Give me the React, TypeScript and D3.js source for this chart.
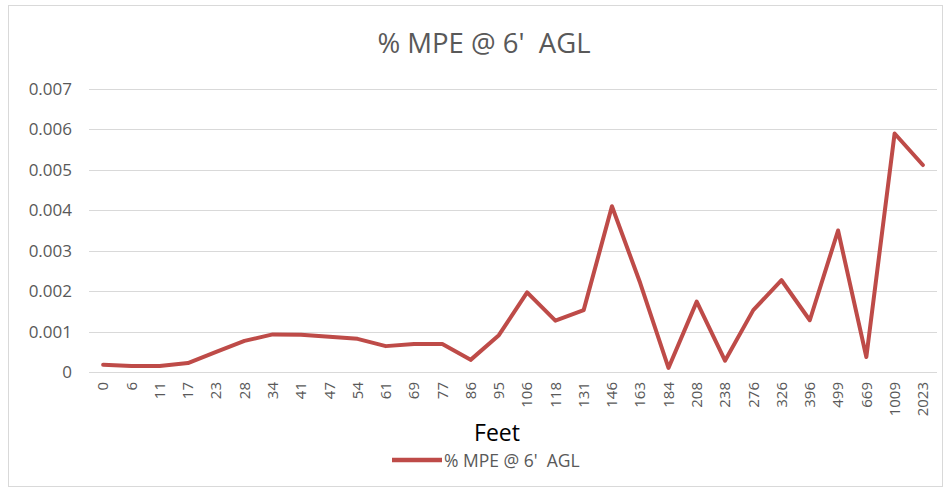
import React from "react";
import * as d3 from "d3";

const categories: string[] = ["0","6","11","17","23","28","34","41","47","54","61","69","77","86","95","106","118","131","146","163","184","208","238","276","326","396","499","669","1009","2023"];
const values: number[] = [0.00018,0.00015,0.00015,0.00022,0.0005,0.00077,0.00093,0.00092,0.00087,0.00082,0.00064,0.00069,0.00069,0.0003,0.00091,0.00197,0.00127,0.00153,0.0041,0.0022,0.0001,0.00174,0.00028,0.00153,0.00227,0.00128,0.0035,0.00037,0.0059,0.00512];
const yTicks: number[] = [0,0.001,0.002,0.003,0.004,0.005,0.006,0.007];
const seriesName = "% MPE @ 6'  AGL";
const chartTitle = "% MPE @ 6'  AGL";
const xTitle = "Feet";

const W = 950, H = 490;
const left = 89, right = 937, top = 89, bottom = 372;
const FONT = "'Open Sans', 'Noto Sans', sans-serif";
const TXT = "#595959";
const RED = "#be4b48";

export default function App() {
  const x = d3.scaleBand<string>().domain(categories).range([left, right]).padding(0);
  const y = d3.scaleLinear().domain([0, 0.007]).range([bottom, top]);
  const line = d3.line<number>()
    .x((_, i) => (x(categories[i]) as number) + x.bandwidth() / 2)
    .y((d) => y(d));
  const fmt = (v: number) => (v === 0 ? "0" : d3.format(".3f")(v));
  return (
    <svg width={W} height={H} style={{ position: "absolute", left: 0, top: 0, background: "#fff" }}>
      <rect x={0} y={0} width={W} height={H} fill="#fff" />
      <rect x={8.5} y={5.5} width={934} height={481} fill="none" stroke="#d9d9d9" strokeWidth={1} />
      <text x={484} y={53} textAnchor="middle" fontFamily={FONT} fontSize={27.5} fill={TXT} style={{ whiteSpace: "pre" }}>{chartTitle}</text>
      {yTicks.map((t) => (
        <g key={t}>
          <line x1={left} x2={right} y1={Math.round(y(t)) + 0.5} y2={Math.round(y(t)) + 0.5} stroke="#d9d9d9" strokeWidth={1} />
          <text x={72} y={y(t)} dy="0.35em" textAnchor="end" fontFamily={FONT} fontSize={17} fill={TXT}>{fmt(t)}</text>
        </g>
      ))}
      {categories.map((c) => {
        const cx = (x(c) as number) + x.bandwidth() / 2;
        return (
          <text key={c} transform={`translate(${cx},${382}) rotate(-90)`} textAnchor="end" dy="0.35em" fontFamily={FONT} fontSize={15} fill={TXT}>{c}</text>
        );
      })}
      <path d={line(values) || ""} fill="none" stroke={RED} strokeWidth={4} strokeLinejoin="round" strokeLinecap="round" />
      <text x={497} y={441} textAnchor="middle" fontFamily={FONT} fontSize={23} fill="#000">{xTitle}</text>
      <line x1={392} x2={442} y1={460} y2={460} stroke={RED} strokeWidth={4.5} />
      <text x={444} y={467} fontFamily={FONT} fontSize={17.5} fill={TXT} style={{ whiteSpace: "pre" }}>{seriesName}</text>
    </svg>
  );
}
